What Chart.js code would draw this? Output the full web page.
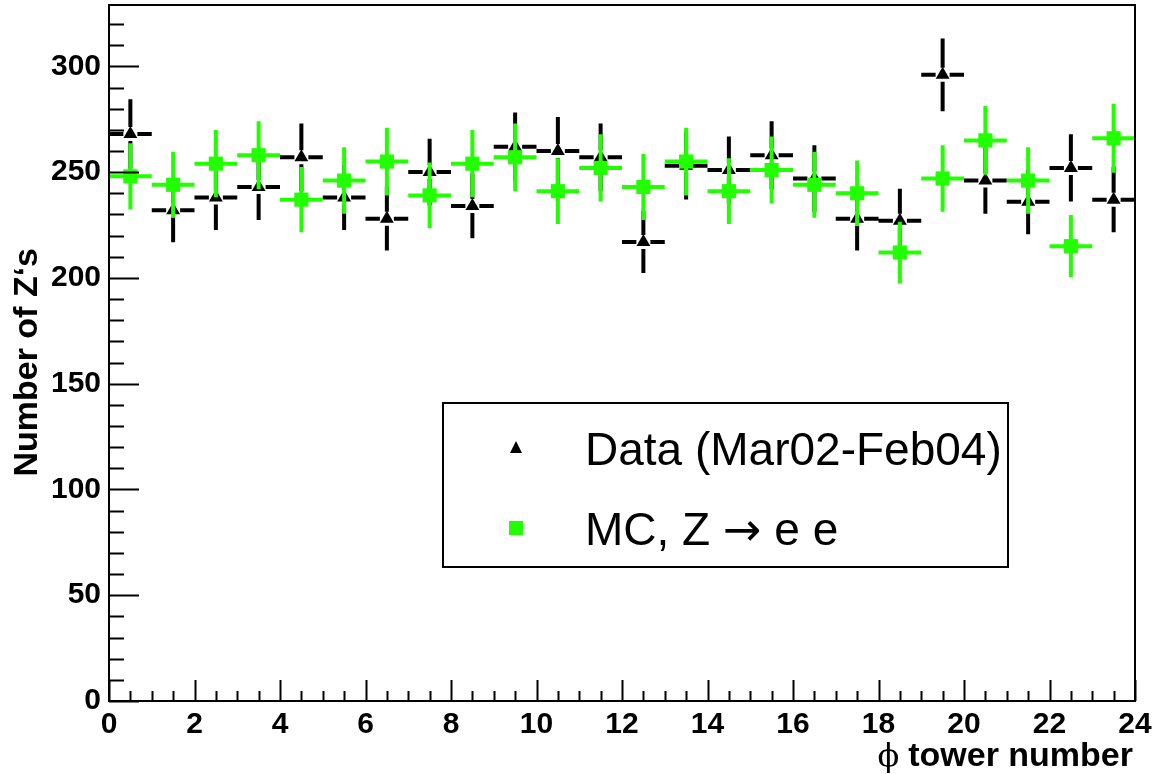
<!DOCTYPE html>
<html>
<head>
<meta charset="utf-8">
<script src="https://cdn.jsdelivr.net/npm/chart.js@4.4.1/dist/chart.umd.min.js"></script>
<style>
  html, body { margin: 0; padding: 0; background: #fff; }
  #wrap { width: 1157px; height: 774px; position: relative; }
</style>
</head>
<body>
<div id="wrap"><canvas id="phiChart"></canvas></div>
<script>
// phi tower bins (centres), counts and poisson errors
const binCenters = [0.5, 1.5, 2.5, 3.5, 4.5, 5.5, 6.5, 7.5, 8.5, 9.5, 10.5, 11.5,
  12.5, 13.5, 14.5, 15.5, 16.5, 17.5, 18.5, 19.5, 20.5, 21.5, 22.5, 23.5];
const binHalfWidth = 0.5;

const dataCounts = [268, 232, 238, 243, 257, 238, 228, 250, 234, 262, 260, 257,
  217, 253, 251, 258, 247, 228, 227, 296, 246, 236, 252, 237];
const dataErrors = [16.4, 15.2, 15.4, 15.6, 16.0, 15.4, 15.1, 15.8, 15.3, 16.2, 16.1, 16.0,
  14.7, 15.9, 15.8, 16.1, 15.7, 15.1, 15.1, 17.2, 15.7, 15.4, 15.9, 15.4];

const mcCounts = [248, 244, 254, 258, 237, 246, 255, 239, 254, 257, 241, 252,
  243, 255, 241, 251, 244, 240, 212, 247, 265, 246, 215, 266];
const mcErrors = [15.7, 15.6, 15.9, 16.1, 15.4, 15.7, 16.0, 15.5, 15.9, 16.0, 15.5, 15.9,
  15.6, 16.0, 15.5, 15.8, 15.6, 15.5, 14.6, 15.7, 16.3, 15.7, 14.7, 16.3];

const xTicks = [0, 2, 4, 6, 8, 10, 12, 14, 16, 18, 20, 22, 24];
const yTicks = [0, 50, 100, 150, 200, 250, 300];

const legendLabels = ['Data (Mar02-Feb04)', 'MC, Z \u2192 e e'];
const GREEN = '#22ff00';

const tickFont = { family: 'Liberation Sans, Arial, sans-serif', size: 30, weight: 'bold' };

// error bars, drawn just before each dataset's markers
const errorBars = {
  id: 'errorBars',
  beforeDatasetDraw(chart, args) {
    const ds = chart.data.datasets[args.index];
    const xs = chart.scales.x, ys = chart.scales.y;
    const ctx = chart.ctx;
    const gap = ds.errGap;
    ctx.save();
    ctx.strokeStyle = ds.errColor;
    ctx.lineWidth = 4;
    ctx.beginPath();
    ds.data.forEach((p, i) => {
      const px = xs.getPixelForValue(p.x);
      const py = ys.getPixelForValue(p.y);
      const xl = xs.getPixelForValue(p.x - binHalfWidth);
      const xr = xs.getPixelForValue(p.x + binHalfWidth);
      const yt = ys.getPixelForValue(p.y + ds.errs[i]);
      const yb = ys.getPixelForValue(p.y - ds.errs[i]);
      ctx.moveTo(xl, py); ctx.lineTo(px - gap, py);
      ctx.moveTo(px + gap, py); ctx.lineTo(xr, py);
      ctx.moveTo(px, yt); ctx.lineTo(px, py - gap);
      ctx.moveTo(px, py + gap); ctx.lineTo(px, yb);
    });
    ctx.stroke();
    ctx.restore();
  }
};

// ROOT style frame, inside ticks, axis titles and legend box
const rootFrame = {
  id: 'rootFrame',
  afterDraw(chart) {
    const ctx = chart.ctx;
    const a = chart.chartArea;
    const xs = chart.scales.x, ys = chart.scales.y;
    ctx.save();
    ctx.strokeStyle = '#000';
    ctx.lineWidth = 2;
    ctx.strokeRect(a.left, a.top, a.right - a.left, a.bottom - a.top);

    ctx.beginPath();
    for (let v = 0; v <= ys.max; v += 10) {
      const py = Math.round(ys.getPixelForValue(v)) + 0.5;
      const len = v % 50 === 0 ? 30 : 15;
      ctx.moveTo(a.left, py); ctx.lineTo(a.left + len, py);
    }
    for (let v = 0; v <= 24; v += 0.5) {
      const px = Math.round(xs.getPixelForValue(v)) + 0.5;
      const len = v % 2 === 0 ? 21 : 10;
      ctx.moveTo(px, a.bottom); ctx.lineTo(px, a.bottom - len);
    }
    ctx.stroke();

    // axis titles
    ctx.fillStyle = '#000';
    ctx.font = 'bold 34px "Liberation Sans", Arial, sans-serif';
    ctx.textBaseline = 'alphabetic';
    ctx.textAlign = 'right';
    ctx.fillText('tower number', 1133, 766);
    const tw = ctx.measureText('tower number').width;
    ctx.font = '32px "DejaVu Serif", serif';
    ctx.fillText('\u03d5', 1133 - tw - 9, 766);

    ctx.save();
    ctx.translate(37, 248);
    ctx.rotate(-Math.PI / 2);
    ctx.font = 'bold 34px "Liberation Sans", Arial, sans-serif';
    ctx.textAlign = 'right';
    ctx.fillText('Number of Z\u2018s', 0, 0);
    ctx.restore();

    // legend
    ctx.fillStyle = '#fff';
    ctx.fillRect(443, 403, 565, 164);
    ctx.lineWidth = 2;
    ctx.strokeRect(443, 403, 565, 164);
    ctx.fillStyle = '#000';
    ctx.beginPath();
    ctx.moveTo(516, 441); ctx.lineTo(522, 453); ctx.lineTo(510, 453);
    ctx.closePath(); ctx.fill();
    ctx.fillStyle = GREEN;
    ctx.fillRect(509, 521, 14, 14);
    ctx.fillStyle = '#000';
    ctx.textAlign = 'left';
    ctx.font = '46px "Liberation Sans", Arial, sans-serif';
    ctx.fillText(legendLabels[0], 585, 465);
    // second entry: arrow in a font with a long arrow glyph
    const parts = legendLabels[1].split('\u2192');
    let tx = 585;
    ctx.fillText(parts[0], tx, 545);
    tx += ctx.measureText(parts[0]).width;
    ctx.font = '46px "DejaVu Sans", sans-serif';
    ctx.fillText('\u2192', tx, 545);
    tx += ctx.measureText('\u2192').width;
    ctx.font = '46px "Liberation Sans", Arial, sans-serif';
    ctx.fillText(parts[1], tx, 545);
    ctx.restore();
  }
};

const ctx = document.getElementById('phiChart').getContext('2d');
new Chart(ctx, {
  type: 'scatter',
  data: {
    datasets: [
      {
        label: legendLabels[0],
        data: binCenters.map((x, i) => ({ x: x, y: dataCounts[i] })),
        errs: dataErrors,
        errColor: '#000',
        errGap: 7,
        pointStyle: 'triangle',
        pointRadius: 8,
        pointBorderWidth: 0,
        backgroundColor: '#000',
        borderColor: '#000',
        order: 2
      },
      {
        label: legendLabels[1],
        data: binCenters.map((x, i) => ({ x: x, y: mcCounts[i] })),
        errs: mcErrors,
        errColor: GREEN,
        errGap: 0,
        pointStyle: 'rect',
        pointRadius: 10,
        pointBorderWidth: 0,
        backgroundColor: GREEN,
        borderColor: GREEN,
        order: 1
      }
    ]
  },
  options: {
    responsive: true,
    maintainAspectRatio: false,
    animation: false,
    layout: { autoPadding: false, padding: { top: 5, right: 22, left: 0, bottom: 0 } },
    scales: {
      x: {
        type: 'linear',
        min: 0,
        max: 24,
        afterBuildTicks: (scale) => { scale.ticks = xTicks.map(v => ({ value: v })); },
        afterFit: (scale) => { scale.height = 73; scale.paddingLeft = 0; scale.paddingRight = 0; },
        ticks: { font: tickFont, color: '#000', padding: 6, maxRotation: 0 },
        grid: { display: false, drawTicks: false },
        border: { display: false }
      },
      y: {
        min: 0,
        max: 329,
        afterBuildTicks: (scale) => { scale.ticks = yTicks.map(v => ({ value: v })); },
        afterFit: (scale) => { scale.width = 109; scale.paddingTop = 0; scale.paddingBottom = 0; },
        ticks: { font: tickFont, color: '#000', padding: 8 },
        grid: { display: false, drawTicks: false },
        border: { display: false }
      }
    },
    plugins: {
      legend: { display: false },
      tooltip: { enabled: false }
    }
  },
  plugins: [errorBars, rootFrame]
});
</script>
</body>
</html>
